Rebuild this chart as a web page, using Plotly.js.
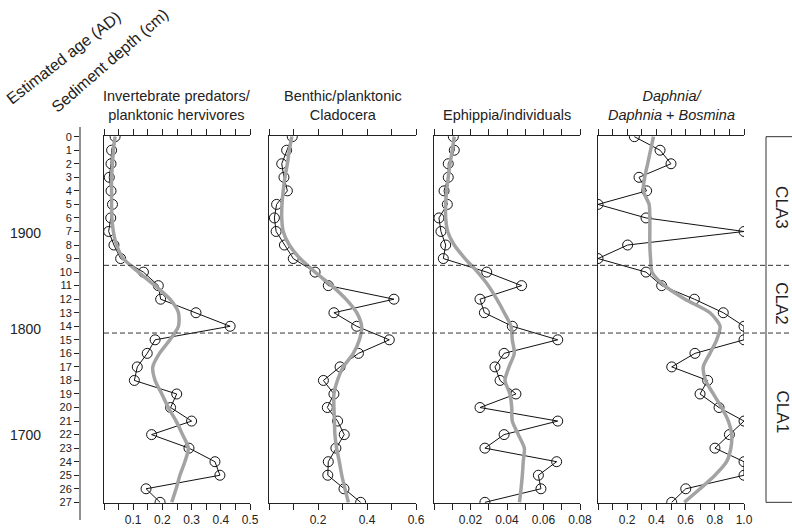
<!DOCTYPE html>
<html>
<head>
<meta charset="utf-8">
<script src="https://cdn.plot.ly/plotly-3.0.1.min.js"></script>
<style>html,body{margin:0;padding:0;background:#fff;}#chart{width:792px;height:532px;}</style>
</head>
<body>
<div id="chart"></div>
<script>
// ---- data ----
const depth = [0,1,2,3,4,5,6,7,8,9,10,11,12,13,14,15,16,17,18,19,20,21,22,23,24,25,26,27];

const predatorRatio = [0.038,0.026,0.024,0.018,0.024,0.029,0.023,0.016,0.034,0.057,0.135,0.186,0.194,0.315,0.432,0.175,0.148,0.114,0.104,0.249,0.228,0.300,0.163,0.291,0.380,0.397,0.144,0.192];
const predatorSmooth = [0.038,0.032,0.029,0.026,0.026,0.026,0.027,0.032,0.043,0.066,0.118,0.175,0.226,0.255,0.255,0.226,0.190,0.167,0.175,0.198,0.220,0.247,0.269,0.289,0.277,0.260,0.247,0.232];

const benthicRatio = [0.095,0.072,0.052,0.061,0.075,0.031,0.022,0.029,0.063,0.099,0.188,0.242,0.510,0.265,0.358,0.491,0.365,0.290,0.222,0.265,0.238,0.280,0.307,0.273,0.242,0.240,0.306,0.374];
const benthicSmooth = [0.093,0.083,0.075,0.065,0.058,0.053,0.052,0.058,0.083,0.127,0.188,0.256,0.314,0.358,0.378,0.369,0.344,0.303,0.279,0.265,0.265,0.267,0.269,0.276,0.287,0.297,0.310,0.324];

const ephippiaRatio = [0.0106,0.0111,0.0078,0.0078,0.0055,0.0073,0.0027,0.0038,0.0064,0.0051,0.0289,0.0480,0.0252,0.0276,0.0429,0.0678,0.0384,0.0334,0.0362,0.0449,0.0252,0.0678,0.0384,0.0279,0.0672,0.0572,0.0586,0.0279];
const ephippiaSmooth = [0.0111,0.0100,0.0088,0.0078,0.0069,0.0064,0.0064,0.0075,0.0111,0.0170,0.0239,0.0298,0.0344,0.0385,0.0422,0.0429,0.0440,0.0411,0.0389,0.0416,0.0426,0.0429,0.0462,0.0495,0.0489,0.0484,0.0477,0.0468];

const daphniaRatio = [0.249,0.425,0.500,0.281,0.333,0.0,0.329,1.0,0.203,0.0,0.329,0.436,0.660,0.858,1.0,1.0,0.664,0.505,0.751,0.699,0.829,1.0,0.900,0.801,1.0,1.0,0.601,0.505];
const daphniaSmooth = [0.38,0.36,0.34,0.32,0.31,0.35,0.355,0.355,0.355,0.36,0.37,0.455,0.596,0.767,0.836,0.813,0.767,0.721,0.737,0.790,0.847,0.893,0.916,0.910,0.881,0.801,0.699,0.591];

const panelTitles = [
  "Invertebrate predators/<br>planktonic hervivores",
  "Benthic/planktonic<br>Cladocera",
  "Ephippia/individuals",
  "<i>Daphnia/</i><br><i>Daphnia</i> + <i>Bosmina</i>"
];

const ticks1 = [0,0.05,0.1,0.15,0.2,0.25,0.3,0.35,0.4,0.45,0.5];
const labels1 = ["","","0.1","","0.2","","0.3","","0.4","","0.5"];
const ticks2 = [0,0.1,0.2,0.3,0.4,0.5,0.6];
const labels2 = ["","","0.2","","0.4","","0.6"];
const ticks3 = [0,0.01,0.02,0.03,0.04,0.05,0.06,0.07,0.08];
const labels3 = ["","","0.02","","0.04","","0.06","","0.08"];
const ticks4 = [0,0.1,0.2,0.3,0.4,0.5,0.6,0.7,0.8,0.9,1.0];
const labels4 = ["","","0.2","","0.4","","0.6","","0.8","","1.0"];

const ageLabels = ["1900","1800","1700"];
const ageDepths = [7.1,14.2,22.0];

const zoneLabels = ["CLA3","CLA2","CLA1"];
const zoneCenters = [5.2,12.3,20.3];
const zoneBounds = [9.5,14.5];

// ---- layout helpers ----
const W = 792, H = 532, T = 136, B = 29;
const px = v => v / W;
const py = v => (H - B - v) / (H - T - B);
const domains = [[104,250],[269,416],[434,580],[598,744]];
const ranges = [[0,0.5],[0,0.6],[0,0.08],[0,1.0]];
const tickSets = [[ticks1,labels1],[ticks2,labels2],[ticks3,labels3],[ticks4,labels4]];
const series = [[predatorRatio,predatorSmooth],[benthicRatio,benthicSmooth],[ephippiaRatio,ephippiaSmooth],[daphniaRatio,daphniaSmooth]];
const FONT = "Liberation Sans, Arial, sans-serif";
const yRange = [27.05, -0.05];

const data = [];
const layout = {
  width: W, height: H,
  margin: {l:0, r:0, t:T, b:B, pad:0},
  paper_bgcolor: "#fff", plot_bgcolor: "rgba(0,0,0,0)",
  showlegend: false,
  font: {family: FONT, color: "#222", size: 12},
  xaxis: {domain:[px(80), px(100)], visible:false, range:[0,1], fixedrange:true},
  yaxis: {
    anchor: "x", side: "left", range: yRange, autorange: false,
    tickvals: depth, ticktext: depth.map(String),
    ticks: "outside", ticklen: 5, tickwidth: 1, tickcolor: "#222",
    showline: false, showgrid: false, zeroline: false,
    tickfont: {size: 11, family: FONT, color: "#222"}
  },
  shapes: [],
  annotations: []
};

series.forEach((s, i) => {
  const n = i + 2;
  const xa = "x" + n, ya = "y" + n;
  data.push({
    x: s[0], y: depth, xaxis: xa, yaxis: ya, type: "scatter", mode: "lines+markers",
    line: {color: "#111", width: 1},
    marker: {symbol: "circle-open", size: 10, color: "#111", line: {width: 1, color: "#111"}},
    hoverinfo: "skip"
  });
  data.push({
    x: s[1], y: depth, xaxis: xa, yaxis: ya, type: "scatter", mode: "lines",
    line: {color: "#a3a3a3", width: 3.5, shape: "spline", smoothing: 0.7},
    hoverinfo: "skip"
  });
  layout["xaxis" + n] = {
    domain: [px(domains[i][0]), px(domains[i][1])], anchor: ya,
    range: ranges[i], autorange: false,
    tickvals: tickSets[i][0], ticktext: tickSets[i][1],
    ticks: "outside", ticklen: 6, tickwidth: 1, tickcolor: "#222",
    showline: true, linecolor: "#222", linewidth: 1, mirror: "ticks",
    showgrid: false, zeroline: false,
    tickfont: {size: 12, family: FONT, color: "#222"}
  };
  layout["yaxis" + n] = {
    anchor: xa, matches: "y", range: yRange, autorange: false,
    showline: true, linecolor: "#222", linewidth: 1,
    ticks: "", showticklabels: false, showgrid: false, zeroline: false
  };
  layout.annotations.push({
    xref: "paper", yref: "paper",
    x: px((domains[i][0] + domains[i][1]) / 2), y: py(125),
    xanchor: "center", yanchor: "bottom", showarrow: false,
    text: panelTitles[i], font: {size: 14.5, family: FONT, color: "#222"}
  });
});

// depth axis line
layout.shapes.push({type:"line", xref:"paper", yref:"paper", x0:px(80), x1:px(80), y0:py(127), y1:py(520), line:{color:"#222", width:1}});
// zone boundaries
zoneBounds.forEach(b => {
  layout.shapes.push({type:"line", xref:"paper", yref:"y", x0:px(104), x1:1, y0:b, y1:b, line:{color:"#333", width:1, dash:"5px,3px"}});
});
// zone box
layout.shapes.push({type:"line", xref:"paper", yref:"y", x0:px(766), x1:px(766), y0:0, y1:27, line:{color:"#333", width:1}});
layout.shapes.push({type:"line", xref:"paper", yref:"y", x0:px(766), x1:1, y0:0, y1:0, line:{color:"#333", width:1}});
layout.shapes.push({type:"line", xref:"paper", yref:"y", x0:px(766), x1:1, y0:27, y1:27, line:{color:"#333", width:1}});

zoneLabels.forEach((t, i) => {
  layout.annotations.push({xref:"paper", yref:"y", x:px(782), y:zoneCenters[i], text:t, textangle:90, showarrow:false,
    xanchor:"center", yanchor:"middle", font:{size:17, family:FONT, color:"#222"}});
});
ageLabels.forEach((t, i) => {
  layout.annotations.push({xref:"paper", yref:"y", x:px(25), y:ageDepths[i], text:t, showarrow:false,
    xanchor:"center", yanchor:"middle", font:{size:14, family:FONT, color:"#222"}});
});
layout.annotations.push({xref:"paper", yref:"paper", x:px(64), y:py(58), text:"Estimated age (AD)", textangle:-38, showarrow:false,
  xanchor:"center", yanchor:"middle", font:{size:16, family:FONT, color:"#222"}});
layout.annotations.push({xref:"paper", yref:"paper", x:px(110), y:py(61), text:"Sediment depth (cm)", textangle:-41, showarrow:false,
  xanchor:"center", yanchor:"middle", font:{size:16, family:FONT, color:"#222"}});

Plotly.newPlot("chart", data, layout, {staticPlot: true, displayModeBar: false});
</script>
</body>
</html>
